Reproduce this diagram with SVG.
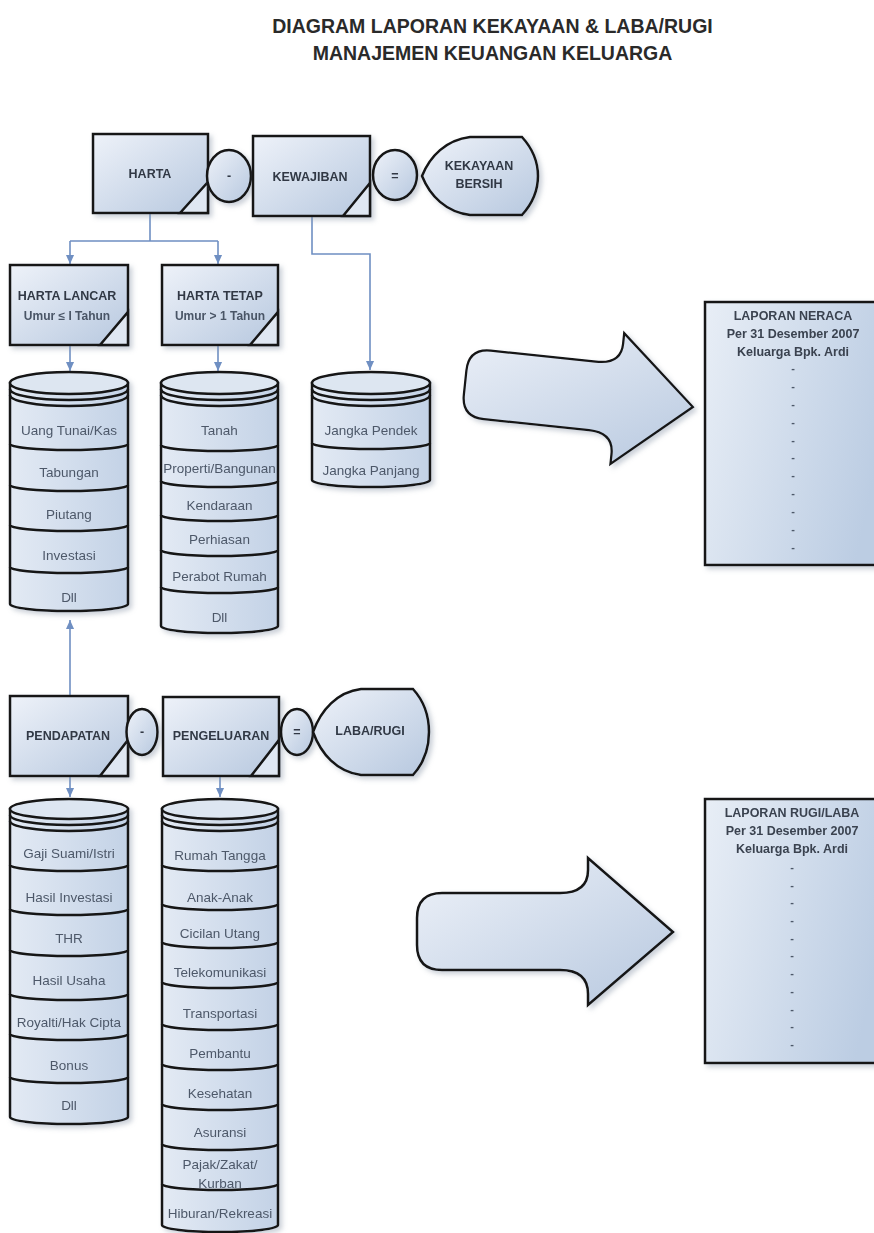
<svg xmlns="http://www.w3.org/2000/svg" width="874" height="1233" viewBox="0 0 874 1233">
<defs>
<linearGradient id="g" x1="0" y1="0" x2="1" y2="1">
<stop offset="0" stop-color="#eef2f9"/>
<stop offset="1" stop-color="#b7c8df"/>
</linearGradient>
<linearGradient id="gs" x1="0" y1="0" x2="1" y2="0">
<stop offset="0" stop-color="#e3eaf4"/>
<stop offset="1" stop-color="#c3d2e6"/>
</linearGradient>
<linearGradient id="gr" x1="0" y1="0" x2="1" y2="0.3">
<stop offset="0" stop-color="#e8eef6"/>
<stop offset="1" stop-color="#bccde3"/>
</linearGradient>
<filter id="sh" x="-10%" y="-10%" width="130%" height="130%">
<feDropShadow dx="3" dy="3" stdDeviation="2.5" flood-color="#8b97a9" flood-opacity="0.45"/>
</filter>
<marker id="ah" viewBox="0 0 10 10" refX="10" refY="5" markerWidth="9" markerHeight="9" markerUnits="userSpaceOnUse" orient="auto">
<path d="M0,0.5 L10,5 L0,9.5 Z" fill="#6f8fc2"/>
</marker>
<style>
.box{fill:url(#g);stroke:#151515;stroke-width:2.5}
.fold{fill:#dfe7f2;stroke:#151515;stroke-width:2.5;stroke-linejoin:miter}
.cyl{fill:url(#gs);stroke:#151515;stroke-width:2.5}
.cyltop{fill:#dde6f1;stroke:#151515;stroke-width:2.5}
.sep{fill:none;stroke:#151515;stroke-width:2.5}
.conn{fill:none;stroke:#6f8fc2;stroke-width:1.6}
.lbl{font-family:"Liberation Sans",Arial,sans-serif;font-weight:bold;font-size:12.5px;fill:#303945;text-anchor:middle}
.sub{font-family:"Liberation Sans",Arial,sans-serif;font-weight:bold;font-size:12px;fill:#4a5566;text-anchor:middle}
.item{font-family:"Liberation Sans",Arial,sans-serif;font-size:13.5px;fill:#4d5869;text-anchor:middle}
.title{font-family:"Liberation Sans",Arial,sans-serif;font-weight:bold;font-size:19.5px;fill:#2a2a2a;text-anchor:middle}
.rep{font-family:"Liberation Sans",Arial,sans-serif;font-weight:bold;font-size:12.5px;fill:#3a4350;text-anchor:middle}
.dash{font-family:"Liberation Sans",Arial,sans-serif;font-weight:bold;font-size:11px;fill:#4d5869;text-anchor:middle}
</style>
</defs>
<rect width="874" height="1233" fill="#ffffff"/>

<g id="title">
<text class="title" x="492.5" y="33">DIAGRAM LAPORAN KEKAYAAN &amp; LABA/RUGI</text>
<text class="title" x="492.5" y="60">MANAJEMEN KEUANGAN KELUARGA</text>
</g>

<g id="connectors">
<path class="conn" d="M150,213 V241 M70,241 H218"/>
<path class="conn" d="M70,241 V264" marker-end="url(#ah)"/>
<path class="conn" d="M218,241 V264" marker-end="url(#ah)"/>
<path class="conn" d="M70,345 V371" marker-end="url(#ah)"/>
<path class="conn" d="M218,345 V371" marker-end="url(#ah)"/>
<path class="conn" d="M312,216 V254 H370 V370" marker-end="url(#ah)"/>
<path class="conn" d="M70,696 V620" marker-end="url(#ah)"/>
<path class="conn" d="M70,776 V797" marker-end="url(#ah)"/>
<path class="conn" d="M220,776 V797" marker-end="url(#ah)"/>
</g>

<g id="harta" filter="url(#sh)">
<rect class="box" x="93" y="134" width="115" height="79"/>
<path class="fold" d="M180,213 L208,182 L208,213 Z"/>
<text class="lbl" x="150" y="177.5">HARTA</text>
</g>
<g id="op-minus-1" filter="url(#sh)">
<ellipse class="box" cx="229" cy="176" rx="22" ry="26"/>
<text class="lbl" x="229" y="180">-</text>
</g>
<g id="kewajiban" filter="url(#sh)">
<rect class="box" x="253" y="136" width="117" height="80"/>
<path class="fold" d="M343,216 L370,183 L370,216 Z"/>
<text class="lbl" x="310" y="180.5">KEWAJIBAN</text>
</g>
<g id="op-eq-1" filter="url(#sh)">
<ellipse class="box" cx="395" cy="175" rx="22" ry="25"/>
<text class="lbl" x="395" y="179.5">=</text>
</g>
<g id="kekayaan-bersih" filter="url(#sh)">
<path class="box" d="M422,176 C430,156 446,140 470,137 L522,137 C532,148 538,161 538,176 C538,191 532,204 522,215 L470,215 C446,212 430,196 422,176 Z"/>
<text class="lbl" x="479" y="169.5">KEKAYAAN</text>
<text class="lbl" x="479" y="188">BERSIH</text>
</g>

<g id="harta-lancar" filter="url(#sh)">
<rect class="box" x="10" y="265" width="118" height="80"/>
<path class="fold" d="M100,345 L128,312 L128,345 Z"/>
<text class="lbl" x="67" y="299.5">HARTA LANCAR</text>
<text class="sub" x="67" y="319.5">Umur ≤ I Tahun</text>
</g>
<g id="harta-tetap" filter="url(#sh)">
<rect class="box" x="162" y="265" width="116" height="80"/>
<path class="fold" d="M250,345 L278,312 L278,345 Z"/>
<text class="lbl" x="220" y="299.5">HARTA TETAP</text>
<text class="sub" x="220" y="319.5">Umur &gt; 1 Tahun</text>
</g>

<g id="stack-harta-lancar" filter="url(#sh)">
<path class="cyl" d="M10,383 L10,604 A59,7 0 0 0 128,604 L128,383 Z"/>
<ellipse class="cyltop" cx="69" cy="383" rx="59" ry="11"/>
<path class="sep" d="M10,389 A59,11 0 0 0 128,389 M10,395 A59,11 0 0 0 128,395"/>
<path class="sep" d="M10,444 A59,6 0 0 0 128,444 M10,485 A59,6 0 0 0 128,485 M10,525 A59,6 0 0 0 128,525 M10,567 A59,6 0 0 0 128,567"/>
<text class="item" x="69" y="434.5">Uang Tunai/Kas</text>
<text class="item" x="69" y="476.5">Tabungan</text>
<text class="item" x="69" y="518.5">Piutang</text>
<text class="item" x="69" y="559.5">Investasi</text>
<text class="item" x="69" y="601.5">Dll</text>
</g>

<g id="stack-harta-tetap" filter="url(#sh)">
<path class="cyl" d="M161,383 L161,626 A58.5,7 0 0 0 278,626 L278,383 Z"/>
<ellipse class="cyltop" cx="219.5" cy="383" rx="58.5" ry="11"/>
<path class="sep" d="M161,389 A58.5,11 0 0 0 278,389 M161,395 A58.5,11 0 0 0 278,395"/>
<path class="sep" d="M161,445 A58.5,6 0 0 0 278,445 M161,481 A58.5,6 0 0 0 278,481 M161,515 A58.5,6 0 0 0 278,515 M161,550 A58.5,6 0 0 0 278,550 M161,587 A58.5,6 0 0 0 278,587"/>
<text class="item" x="219.5" y="434.5">Tanah</text>
<text class="item" x="219.5" y="472.5">Properti/Bangunan</text>
<text class="item" x="219.5" y="509.5">Kendaraan</text>
<text class="item" x="219.5" y="543.5">Perhiasan</text>
<text class="item" x="219.5" y="580.5">Perabot Rumah</text>
<text class="item" x="219.5" y="621.5">Dll</text>
</g>

<g id="stack-kewajiban" filter="url(#sh)">
<path class="cyl" d="M312,383 L312,480 A59,7 0 0 0 430,480 L430,383 Z"/>
<ellipse class="cyltop" cx="371" cy="383" rx="59" ry="11"/>
<path class="sep" d="M312,389 A59,11 0 0 0 430,389 M312,395 A59,11 0 0 0 430,395"/>
<path class="sep" d="M312,443 A59,6 0 0 0 430,443"/>
<text class="item" x="371" y="434.5">Jangka Pendek</text>
<text class="item" x="371" y="474.5">Jangka Panjang</text>
</g>

<g id="arrow-neraca" filter="url(#sh)">
<path class="box" transform="translate(579,395) rotate(6) scale(0.895) translate(-545,-932)" d="M442,893 L560,893 Q588,893 588,870 L588,858 L673,932 L588,1005 L588,994 Q588,970 560,970 L442,970 Q417,970 417,945 L417,918 Q417,893 442,893 Z"/>
</g>

<g id="laporan-neraca" filter="url(#sh)">
<rect class="box" style="fill:url(#gr)" x="705" y="302" width="190" height="263"/>
<text class="rep" x="793" y="319.5">LAPORAN NERACA</text>
<text class="rep" x="793" y="337.5">Per 31 Desember 2007</text>
<text class="rep" x="793" y="356">Keluarga Bpk. Ardi</text>
<text class="dash" x="793" y="372">-</text>
<text class="dash" x="793" y="390">-</text>
<text class="dash" x="793" y="408">-</text>
<text class="dash" x="793" y="426">-</text>
<text class="dash" x="793" y="444">-</text>
<text class="dash" x="793" y="461">-</text>
<text class="dash" x="793" y="479">-</text>
<text class="dash" x="793" y="497">-</text>
<text class="dash" x="793" y="515">-</text>
<text class="dash" x="793" y="533">-</text>
<text class="dash" x="793" y="551">-</text>
</g>

<g id="pendapatan" filter="url(#sh)">
<rect class="box" x="10" y="696" width="118" height="80"/>
<path class="fold" d="M100,776 L128,740 L128,776 Z"/>
<text class="lbl" x="68" y="739.5">PENDAPATAN</text>
</g>
<g id="op-minus-2" filter="url(#sh)">
<ellipse class="box" cx="142" cy="732" rx="15.5" ry="23"/>
<text class="lbl" x="142" y="736">-</text>
</g>
<g id="pengeluaran" filter="url(#sh)">
<rect class="box" x="163" y="697" width="116" height="79"/>
<path class="fold" d="M251,776 L279,740 L279,776 Z"/>
<text class="lbl" x="221" y="739.5">PENGELUARAN</text>
</g>
<g id="op-eq-2" filter="url(#sh)">
<ellipse class="box" cx="297" cy="732" rx="16" ry="23"/>
<text class="lbl" x="297" y="736">=</text>
</g>
<g id="laba-rugi" filter="url(#sh)">
<path class="box" d="M313,732 C321,710 337,692 361,689 L413,689 C423,700 429,715 429,732 C429,750 423,764 413,775 L361,775 C337,772 321,754 313,732 Z"/>
<text class="lbl" x="370" y="734.5">LABA/RUGI</text>
</g>

<g id="stack-pendapatan" filter="url(#sh)">
<path class="cyl" d="M10,809 L10,1117 A59,7 0 0 0 128,1117 L128,809 Z"/>
<ellipse class="cyltop" cx="69" cy="809" rx="59" ry="10"/>
<path class="sep" d="M10,815 A59,10 0 0 0 128,815 M10,821 A59,10 0 0 0 128,821"/>
<path class="sep" d="M10,865 A59,6 0 0 0 128,865 M10,909 A59,6 0 0 0 128,909 M10,950 A59,6 0 0 0 128,950 M10,994 A59,6 0 0 0 128,994 M10,1034 A59,6 0 0 0 128,1034 M10,1077 A59,6 0 0 0 128,1077"/>
<text class="item" x="69" y="857.5">Gaji Suami/Istri</text>
<text class="item" x="69" y="901.5">Hasil Investasi</text>
<text class="item" x="69" y="942.5">THR</text>
<text class="item" x="69" y="984.5">Hasil Usaha</text>
<text class="item" x="69" y="1026.5">Royalti/Hak Cipta</text>
<text class="item" x="69" y="1069.5">Bonus</text>
<text class="item" x="69" y="1109.5">Dll</text>
</g>

<g id="stack-pengeluaran" filter="url(#sh)">
<path class="cyl" d="M162,809 L162,1225 A58,7 0 0 0 278,1225 L278,809 Z"/>
<ellipse class="cyltop" cx="220" cy="809" rx="58" ry="10"/>
<path class="sep" d="M162,815 A58,10 0 0 0 278,815 M162,821 A58,10 0 0 0 278,821"/>
<path class="sep" d="M162,865 A58,6 0 0 0 278,865 M162,904 A58,6 0 0 0 278,904 M162,942 A58,6 0 0 0 278,942 M162,982 A58,6 0 0 0 278,982 M162,1024 A58,6 0 0 0 278,1024 M162,1064 A58,6 0 0 0 278,1064 M162,1104 A58,6 0 0 0 278,1104 M162,1144 A58,6 0 0 0 278,1144 M162,1184 A58,6 0 0 0 278,1184"/>
<text class="item" x="220" y="859.5">Rumah Tangga</text>
<text class="item" x="220" y="901.5">Anak-Anak</text>
<text class="item" x="220" y="937.5">Cicilan Utang</text>
<text class="item" x="220" y="976.5">Telekomunikasi</text>
<text class="item" x="220" y="1017.5">Transportasi</text>
<text class="item" x="220" y="1057.5">Pembantu</text>
<text class="item" x="220" y="1097.5">Kesehatan</text>
<text class="item" x="220" y="1136.5">Asuransi</text>
<text class="item" x="220" y="1168.5">Pajak/Zakat/</text>
<text class="item" x="220" y="1187.5">Kurban</text>
<text class="item" x="220" y="1217.5">Hiburan/Rekreasi</text>
</g>

<g id="arrow-rugilaba" filter="url(#sh)">
<path class="box" d="M442,893 L560,893 Q588,893 588,870 L588,858 L673,932 L588,1005 L588,994 Q588,970 560,970 L442,970 Q417,970 417,945 L417,918 Q417,893 442,893 Z"/>
</g>

<g id="laporan-rugilaba" filter="url(#sh)">
<rect class="box" style="fill:url(#gr)" x="705" y="799" width="190" height="264"/>
<text class="rep" x="792" y="816.5">LAPORAN RUGI/LABA</text>
<text class="rep" x="792" y="834.5">Per 31 Desember 2007</text>
<text class="rep" x="792" y="852.5">Keluarga Bpk. Ardi</text>
<text class="dash" x="792" y="871">-</text>
<text class="dash" x="792" y="889">-</text>
<text class="dash" x="792" y="906">-</text>
<text class="dash" x="792" y="924">-</text>
<text class="dash" x="792" y="942">-</text>
<text class="dash" x="792" y="959">-</text>
<text class="dash" x="792" y="977">-</text>
<text class="dash" x="792" y="995">-</text>
<text class="dash" x="792" y="1013">-</text>
<text class="dash" x="792" y="1030">-</text>
<text class="dash" x="792" y="1048">-</text>
</g>
</svg>
